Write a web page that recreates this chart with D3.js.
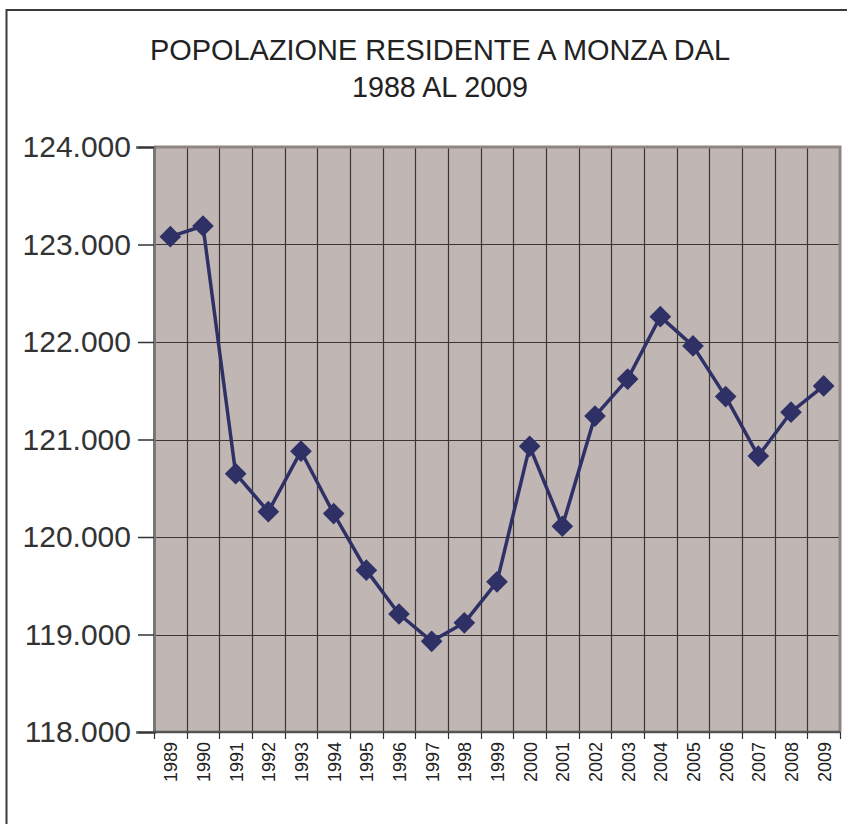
<!DOCTYPE html>
<html>
<head>
<meta charset="utf-8">
<script src="https://cdn.jsdelivr.net/npm/d3@7"></script>
<style>
  body { margin: 0; background: #fff; }
  svg { display: block; }
</style>
</head>
<body>
<svg id="chart" width="847" height="824"></svg>
<script>
const years = ["1989","1990","1991","1992","1993","1994","1995","1996","1997","1998","1999",
  "2000","2001","2002","2003","2004","2005","2006","2007","2008","2009"];
const population = [123080, 123190, 120650, 120260, 120880, 120240, 119660, 119210, 118930, 119120, 119540,
  120930, 120110, 121240, 121620, 122260, 121960, 121440, 120830, 121280, 121550];
const yTicks = [118000, 119000, 120000, 121000, 122000, 123000, 124000];
const titleLines = ["POPOLAZIONE RESIDENTE A MONZA DAL", "1988 AL 2009"];

const svg = d3.select("svg#chart");
const margin = {left: 154, right: 7, top: 147, bottom: 92};
const width = 847, height = 824;
const font = "Liberation Sans, Arial, sans-serif";

// outer frame (runs off right and bottom like the screenshot)
svg.append("path")
  .attr("d", `M6.5,${height} V10 H${width}`)
  .attr("fill", "none")
  .attr("stroke", "#3a3a3a")
  .attr("stroke-width", 2);

svg.append("g")
  .attr("font-family", font)
  .attr("font-size", 29)
  .attr("fill", "#222")
  .attr("text-anchor", "middle")
  .selectAll("text")
  .data(titleLines)
  .join("text")
    .attr("x", 440)
    .attr("y", (d, i) => 60 + i * 37)
    .attr("textLength", (d, i) => i ? 176 : 580)
    .attr("lengthAdjust", "spacingAndGlyphs")
    .text(d => d);

const x = d3.scaleBand()
  .domain(years)
  .range([margin.left, width - margin.right]);

const y = d3.scaleLinear()
  .domain([118000, 124000])
  .range([height - margin.bottom, margin.top]);

// plot background
svg.append("rect")
  .attr("x", x.range()[0])
  .attr("y", y.range()[1])
  .attr("width", x.range()[1] - x.range()[0])
  .attr("height", y.range()[0] - y.range()[1])
  .attr("fill", "#c0b7b4");

// horizontal gridlines
svg.append("g")
  .attr("stroke", "#3b3535")
  .attr("stroke-width", 1.2)
  .selectAll("line")
  .data(yTicks.slice(1, -1))
  .join("line")
    .attr("x1", x.range()[0])
    .attr("x2", x.range()[1])
    .attr("y1", d => Math.round(y(d)) + 0.5)
    .attr("y2", d => Math.round(y(d)) + 0.5);

// vertical gridlines at category boundaries
svg.append("g")
  .attr("stroke", "#3b3535")
  .attr("stroke-width", 1.2)
  .selectAll("line")
  .data(years.slice(1))
  .join("line")
    .attr("x1", d => Math.round(x(d)) + 0.5)
    .attr("x2", d => Math.round(x(d)) + 0.5)
    .attr("y1", y.range()[1])
    .attr("y2", y.range()[0]);

// plot border top/right
svg.append("path")
  .attr("d", `M${x.range()[0]},${y.range()[1]} H${x.range()[1]} V${y.range()[0]}`)
  .attr("fill", "none")
  .attr("stroke", "#8f8581")
  .attr("stroke-width", 3);

// y axis
const yAxis = svg.append("g")
  .attr("transform", `translate(${x.range()[0]},0)`)
  .call(d3.axisLeft(y)
    .tickValues(yTicks)
    .tickSize(18)
    .tickPadding(4)
    .tickFormat(d => d3.format(",")(d).replace(/,/g, ".")));
yAxis.select(".domain")
  .attr("stroke", "#777")
  .attr("stroke-width", 3);
yAxis.selectAll(".tick line").attr("stroke", "#333").attr("stroke-width", 1.5)
  .attr("x2", -16).attr("x1", 0);
yAxis.selectAll("text")
  .attr("font-family", font)
  .attr("font-size", 30)
  .attr("fill", "#333")
  .attr("x", -23);

// x axis
const xAxis = svg.append("g")
  .attr("transform", `translate(0,${y.range()[0]})`);
xAxis.append("line")
  .attr("x1", x.range()[0] - 1)
  .attr("x2", x.range()[1])
  .attr("stroke", "#555")
  .attr("stroke-width", 2.5);
xAxis.selectAll("line.tick")
  .data(years.concat(["end"]))
  .join("line")
    .attr("class", "tick")
    .attr("x1", (d, i) => Math.round(x.range()[0] + i * x.bandwidth()) + 0.5)
    .attr("x2", (d, i) => Math.round(x.range()[0] + i * x.bandwidth()) + 0.5)
    .attr("y1", 0)
    .attr("y2", 7)
    .attr("stroke", "#333")
    .attr("stroke-width", 1.2);
xAxis.selectAll("text")
  .data(years)
  .join("text")
    .attr("transform", d => `translate(${x(d) + x.bandwidth() / 2 + 7},${10}) rotate(-90)`)
    .attr("text-anchor", "end")
    .attr("font-family", font)
    .attr("font-size", 18)
    .attr("fill", "#222")
    .text(d => d);

// series
const cx = d => x(d) + x.bandwidth() / 2;
svg.append("path")
  .datum(years)
  .attr("fill", "none")
  .attr("stroke", "#2f3066")
  .attr("stroke-width", 3.5)
  .attr("stroke-linejoin", "round")
  .attr("d", d3.line()
    .x(d => cx(d))
    .y((d, i) => y(population[i])));

svg.append("g")
  .attr("fill", "#2f3066")
  .selectAll("path")
  .data(years)
  .join("path")
    .attr("transform", (d, i) => `translate(${cx(d)},${y(population[i])})`)
    .attr("d", d3.symbol().type(d3.symbolDiamond2).size(300));
</script>
</body>
</html>
